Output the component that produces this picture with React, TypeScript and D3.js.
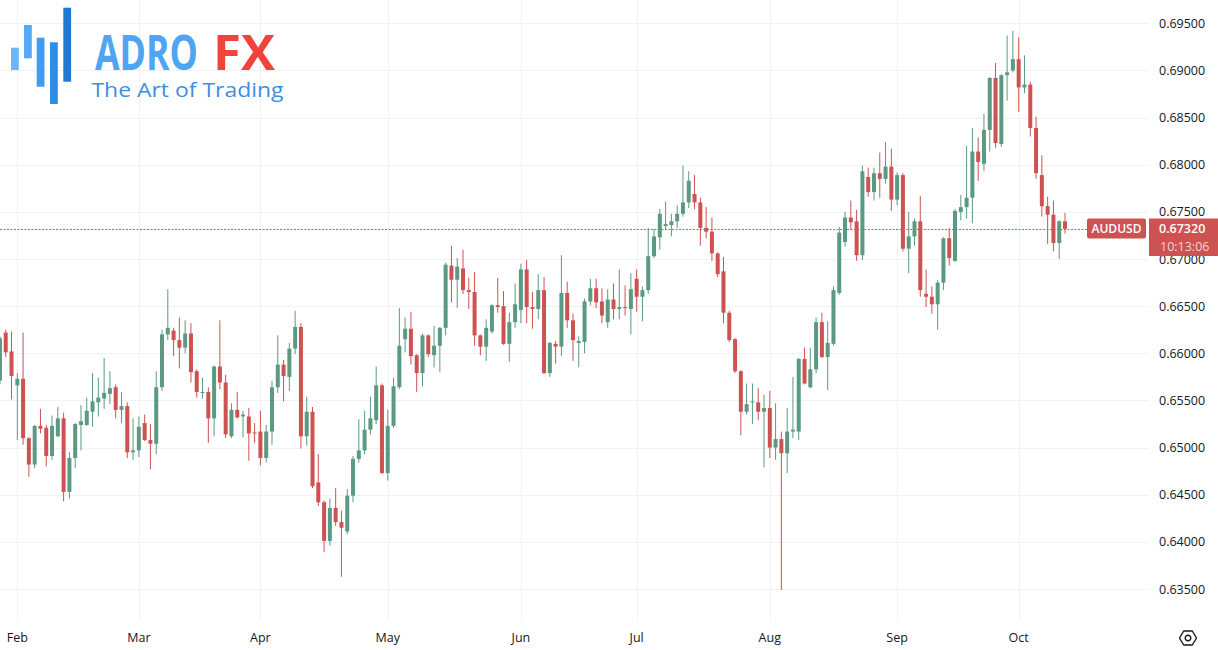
import React, { useEffect } from "react";
import * as d3 from "d3";

// Trading days (categories) from Jan 29 to Oct 11, 2024
const dates: Date[] = d3
  .timeDays(new Date(2024, 0, 29), new Date(2024, 9, 12))
  .filter((d) => d.getDay() !== 0 && d.getDay() !== 6);

const opens = [
  0.6571, 0.6622, 0.6602, 0.6566, 0.6573, 0.6510, 0.6482, 0.6523, 0.6521, 0.6491,
  0.6512, 0.6531, 0.6453, 0.6489, 0.6524, 0.6524, 0.6538, 0.6548, 0.6552, 0.6557,
  0.6564, 0.6540, 0.6544, 0.6495, 0.6497, 0.6526, 0.6508, 0.6504, 0.6564, 0.6620,
  0.6624, 0.6614, 0.6606, 0.6621, 0.6581, 0.6558, 0.6559, 0.6531, 0.6586, 0.6569,
  0.6512, 0.6540, 0.6533, 0.6533, 0.6516, 0.6517, 0.6489, 0.6517, 0.6564, 0.6588,
  0.6575, 0.6605, 0.6628, 0.6512, 0.6538, 0.6463, 0.6442, 0.6401, 0.6436, 0.6421,
  0.6411, 0.6449, 0.6488, 0.6497, 0.6519, 0.6529, 0.6566, 0.6473, 0.6523, 0.6564,
  0.6615, 0.6626, 0.6598, 0.6579, 0.6619, 0.6598, 0.6608, 0.6627, 0.6693, 0.6678,
  0.6690, 0.6667, 0.6665, 0.6619, 0.6607, 0.6623, 0.6651, 0.6650, 0.6610, 0.6633,
  0.6646, 0.6689, 0.6649, 0.6647, 0.6667, 0.6579, 0.6610, 0.6607, 0.6664, 0.6635,
  0.6611, 0.6612, 0.6655, 0.6669, 0.6655, 0.6633, 0.6657, 0.6647, 0.6649, 0.6647,
  0.6679, 0.6660, 0.6667, 0.6703, 0.6723, 0.6735, 0.6736, 0.6740, 0.6748, 0.6760,
  0.6769, 0.6760, 0.6733, 0.6729, 0.6706, 0.6687, 0.6643, 0.6615, 0.6581, 0.6538,
  0.6548, 0.6548, 0.6538, 0.6542, 0.6500, 0.6509, 0.6494, 0.6517, 0.6517, 0.6594,
  0.6564, 0.6583, 0.6633, 0.6596, 0.6610, 0.6664, 0.6718, 0.6744, 0.6740, 0.6704,
  0.6787, 0.6771, 0.6791, 0.6785, 0.6798, 0.6763, 0.6789, 0.6711, 0.6724, 0.6740,
  0.6663, 0.6660, 0.6652, 0.6675, 0.6722, 0.6698, 0.6750, 0.6755, 0.6765, 0.6814,
  0.6801, 0.6837, 0.6892, 0.6822, 0.6895, 0.6900, 0.6912, 0.6882, 0.6885, 0.6839,
  0.6789, 0.6756, 0.6747, 0.6717, 0.6740,
];

const highs = [
  0.6618, 0.6625, 0.6623, 0.6579, 0.6622, 0.6511, 0.6524, 0.6541, 0.6524, 0.6534,
  0.6543, 0.6537, 0.6495, 0.6526, 0.6545, 0.6553, 0.6579, 0.6574, 0.6595, 0.6581,
  0.6567, 0.6559, 0.6548, 0.6531, 0.6533, 0.6535, 0.6525, 0.6581, 0.6625, 0.6668,
  0.6627, 0.6638, 0.6635, 0.6632, 0.6583, 0.6574, 0.6564, 0.6587, 0.6635, 0.6577,
  0.6547, 0.6559, 0.6539, 0.6542, 0.6526, 0.6539, 0.6524, 0.6571, 0.6619, 0.6593,
  0.6611, 0.6645, 0.6632, 0.6554, 0.6543, 0.6493, 0.6444, 0.6446, 0.6457, 0.6433,
  0.6456, 0.6491, 0.6530, 0.6539, 0.6554, 0.6586, 0.6568, 0.6540, 0.6574, 0.6648,
  0.6638, 0.6644, 0.6599, 0.6621, 0.6620, 0.6629, 0.6628, 0.6696, 0.6714, 0.6701,
  0.6710, 0.6680, 0.6686, 0.6620, 0.6636, 0.6652, 0.6680, 0.6666, 0.6643, 0.6674,
  0.6695, 0.6699, 0.6665, 0.6684, 0.6681, 0.6612, 0.6613, 0.6704, 0.6676, 0.6642,
  0.6618, 0.6658, 0.6679, 0.6679, 0.6669, 0.6668, 0.6674, 0.6689, 0.6672, 0.6685,
  0.6689, 0.6671, 0.6733, 0.6732, 0.6753, 0.6761, 0.6748, 0.6757, 0.6799, 0.6793,
  0.6789, 0.6765, 0.6755, 0.6744, 0.6707, 0.6702, 0.6645, 0.6616, 0.6582, 0.6568,
  0.6568, 0.6563, 0.6556, 0.6560, 0.6547, 0.6517, 0.6542, 0.6575, 0.6595, 0.6606,
  0.6606, 0.6638, 0.6643, 0.6634, 0.6671, 0.6734, 0.6750, 0.6762, 0.6752, 0.6799,
  0.6797, 0.6797, 0.6813, 0.6824, 0.6817, 0.6792, 0.6791, 0.6750, 0.6743, 0.6767,
  0.6689, 0.6671, 0.6678, 0.6723, 0.6733, 0.6753, 0.6768, 0.6820, 0.6839, 0.6829,
  0.6854, 0.6893, 0.6908, 0.6896, 0.6937, 0.6942, 0.6935, 0.6916, 0.6888, 0.6851,
  0.6810, 0.6766, 0.6762, 0.6741, 0.6749,
];

const lows = [
  0.6567, 0.6596, 0.6551, 0.6508, 0.6503, 0.6469, 0.6478, 0.6515, 0.6480, 0.6487,
  0.6511, 0.6443, 0.6446, 0.6478, 0.6497, 0.6523, 0.6522, 0.6533, 0.6541, 0.6546,
  0.6531, 0.6526, 0.6489, 0.6487, 0.6490, 0.6507, 0.6477, 0.6493, 0.6560, 0.6614,
  0.6597, 0.6584, 0.6600, 0.6569, 0.6553, 0.6552, 0.6505, 0.6512, 0.6562, 0.6510,
  0.6510, 0.6531, 0.6511, 0.6486, 0.6505, 0.6481, 0.6484, 0.6503, 0.6558, 0.6549,
  0.6560, 0.6599, 0.6499, 0.6502, 0.6457, 0.6438, 0.6389, 0.6396, 0.6417, 0.6363,
  0.6408, 0.6442, 0.6484, 0.6493, 0.6514, 0.6525, 0.6472, 0.6465, 0.6521, 0.6562,
  0.6601, 0.6588, 0.6559, 0.6565, 0.6596, 0.6585, 0.6580, 0.6619, 0.6654, 0.6648,
  0.6663, 0.6647, 0.6608, 0.6598, 0.6592, 0.6621, 0.6643, 0.6609, 0.6591, 0.6627,
  0.6632, 0.6632, 0.6626, 0.6636, 0.6578, 0.6575, 0.6589, 0.6597, 0.6627, 0.6592,
  0.6585, 0.6600, 0.6651, 0.6648, 0.6632, 0.6627, 0.6636, 0.6636, 0.6640, 0.6620,
  0.6644, 0.6634, 0.6663, 0.6701, 0.6710, 0.6731, 0.6724, 0.6733, 0.6745, 0.6754,
  0.6753, 0.6714, 0.6722, 0.6698, 0.6681, 0.6632, 0.6612, 0.6579, 0.6513, 0.6535,
  0.6525, 0.6529, 0.6479, 0.6489, 0.6487, 0.6349, 0.6473, 0.6510, 0.6508, 0.6567,
  0.6563, 0.6579, 0.6595, 0.6561, 0.6608, 0.6662, 0.6713, 0.6731, 0.6698, 0.6699,
  0.6766, 0.6762, 0.6765, 0.6780, 0.6751, 0.6757, 0.6708, 0.6685, 0.6714, 0.6660,
  0.6649, 0.6642, 0.6625, 0.6667, 0.6693, 0.6697, 0.6741, 0.6743, 0.6738, 0.6783,
  0.6793, 0.6814, 0.6818, 0.6819, 0.6868, 0.6898, 0.6856, 0.6876, 0.6830, 0.6785,
  0.6745, 0.6716, 0.6708, 0.6700, 0.6727,
];

const closes = [
  0.6616, 0.6601, 0.6576, 0.6573, 0.6510, 0.6482, 0.6523, 0.6520, 0.6491, 0.6523,
  0.6531, 0.6453, 0.6489, 0.6525, 0.6528, 0.6539, 0.6549, 0.6553, 0.6558, 0.6563,
  0.6540, 0.6544, 0.6495, 0.6497, 0.6522, 0.6508, 0.6504, 0.6564, 0.6620, 0.6627,
  0.6614, 0.6606, 0.6621, 0.6580, 0.6559, 0.6559, 0.6531, 0.6586, 0.6569, 0.6514,
  0.6540, 0.6532, 0.6535, 0.6515, 0.6515, 0.6489, 0.6517, 0.6564, 0.6588, 0.6576,
  0.6605, 0.6628, 0.6512, 0.6538, 0.6459, 0.6442, 0.6401, 0.6436, 0.6421, 0.6415,
  0.6449, 0.6488, 0.6497, 0.6519, 0.6531, 0.6566, 0.6473, 0.6523, 0.6565, 0.6608,
  0.6626, 0.6597, 0.6579, 0.6619, 0.6599, 0.6608, 0.6627, 0.6694, 0.6678, 0.6692,
  0.6667, 0.6665, 0.6619, 0.6607, 0.6627, 0.6651, 0.6649, 0.6610, 0.6633, 0.6652,
  0.6689, 0.6649, 0.6647, 0.6667, 0.6579, 0.6611, 0.6607, 0.6664, 0.6635, 0.6614,
  0.6613, 0.6655, 0.6669, 0.6654, 0.6640, 0.6657, 0.6647, 0.6649, 0.6648, 0.6668,
  0.6660, 0.6667, 0.6703, 0.6724, 0.6748, 0.6737, 0.6740, 0.6748, 0.6760, 0.6783,
  0.6760, 0.6733, 0.6729, 0.6706, 0.6684, 0.6643, 0.6614, 0.6581, 0.6538, 0.6546,
  0.6549, 0.6538, 0.6542, 0.6500, 0.6509, 0.6494, 0.6517, 0.6519, 0.6594, 0.6568,
  0.6583, 0.6633, 0.6596, 0.6611, 0.6667, 0.6728, 0.6744, 0.6739, 0.6704, 0.6793,
  0.6771, 0.6791, 0.6785, 0.6798, 0.6763, 0.6789, 0.6711, 0.6724, 0.6740, 0.6667,
  0.6660, 0.6652, 0.6675, 0.6722, 0.6701, 0.6751, 0.6755, 0.6765, 0.6814, 0.6803,
  0.6837, 0.6892, 0.6823, 0.6895, 0.6898, 0.6912, 0.6882, 0.6885, 0.6839, 0.6791,
  0.6756, 0.6747, 0.6717, 0.6740, 0.6732,
];

const priceTicks = [
  0.635, 0.64, 0.645, 0.65, 0.655, 0.66, 0.665, 0.67, 0.675, 0.68, 0.685, 0.69, 0.695,
];
const symbol = "AUDUSD";
const lastPrice = 0.6732;
const countdown = "10:13:06";
const brandMain = "ADRO";
const brandAccent = "FX";
const tagline = "The Art of Trading";

const W = 1218;
const H = 650;
const UP = "#5a9a82";
const DOWN = "#cf5252";
const GRID = "#f0f2f6";
const TEXT = "#131722";
const FONT = "'Open Sans', 'Noto Sans', sans-serif";

export default function App() {
  useEffect(() => {
    document.body.style.margin = "0";
  }, []);

  const x = d3.scaleLinear().domain([3, 184]).range([17.3, 1065]);
  const y = d3.scaleLinear().domain([0.635, 0.695]).range([589, 23.3]);

  const monthStarts = dates
    .map((d, i) => ({ d, i }))
    .filter(({ d, i }) => i > 0 && d.getMonth() !== dates[i - 1].getMonth());
  const monthFmt = d3.timeFormat("%b");

  const plotRight = 1148;
  const bodyW = 4;

  const logoBars = [
    { x: 11, y0: 47.7, y1: 70, c: "#6ab6f6" },
    { x: 24, y0: 25, y1: 58.3, c: "#56aaf3" },
    { x: 36.7, y0: 37.7, y1: 86.7, c: "#3f9cee" },
    { x: 50, y0: 42.3, y1: 104, c: "#2f8de6" },
    { x: 63.3, y0: 7.7, y1: 81.7, c: "#1c79d6" },
  ];

  return (
    <svg
      width={W}
      height={H}
      style={{ position: "absolute", left: 0, top: 0, background: "#fff", fontFamily: FONT }}
    >
      <rect x={0} y={0} width={W} height={H} fill="#ffffff" />
      {/* horizontal grid */}
      {priceTicks.map((t) => (
        <line
          key={"hg" + t}
          x1={0}
          x2={plotRight}
          y1={Math.round(y(t)) + 0.5}
          y2={Math.round(y(t)) + 0.5}
          stroke={GRID}
          strokeWidth={1}
        />
      ))}
      {/* vertical grid */}
      {monthStarts.map(({ i }) => (
        <line
          key={"vg" + i}
          x1={Math.round(x(i)) + 0.5}
          x2={Math.round(x(i)) + 0.5}
          y1={0}
          y2={620}
          stroke={GRID}
          strokeWidth={1}
        />
      ))}

      {/* logo */}
      <g>
        {logoBars.map((b, k) => (
          <rect key={"lb" + k} x={b.x} y={b.y0} width={7.8} height={b.y1 - b.y0} fill={b.c} />
        ))}
        <text
          transform="translate(95,69.5) scale(1,1.33)"
          fontFamily="'Open Sans', sans-serif"
          fontSize={37}
          fontWeight={700}
        >
          <tspan x={0} y={0} fill="#4fa5f3" textLength={103} lengthAdjust="spacingAndGlyphs">
            {brandMain}
          </tspan>
          <tspan x={118} y={0} fill="#f0443b" textLength={62} lengthAdjust="spacingAndGlyphs">
            {brandAccent}
          </tspan>
        </text>
        <text
          x={91.5}
          y={97}
          fontFamily="'Open Sans', sans-serif"
          fontSize={20}
          fontWeight={400}
          fill="#3b8fe1"
          textLength={192}
          lengthAdjust="spacingAndGlyphs"
        >
          {tagline}
        </text>
      </g>

      {/* candles */}
      <g>
        {dates.map((d, i) => {
          const o = opens[i];
          const c = closes[i];
          const hi = highs[i];
          const lo = lows[i];
          const up = c >= o;
          const col = up ? UP : DOWN;
          const cx = x(i);
          const top = y(Math.max(o, c));
          const bot = y(Math.min(o, c));
          return (
            <g key={"c" + i}>
              <line x1={cx} x2={cx} y1={y(hi)} y2={y(lo)} stroke={col} strokeWidth={1} />
              <rect
                x={cx - bodyW / 2}
                y={top}
                width={bodyW}
                height={Math.max(1, bot - top)}
                fill={col}
              />
            </g>
          );
        })}
      </g>

      {/* last price dotted line */}
      <line
        x1={0}
        x2={1087}
        y1={Math.round(y(lastPrice)) + 0.5}
        y2={Math.round(y(lastPrice)) + 0.5}
        stroke="#e25555"
        strokeWidth={1}
        strokeDasharray="2 1.5"
      />

      {/* price axis labels */}
      {priceTicks.map((t) => (
        <text
          key={"pl" + t}
          x={1159}
          y={y(t)}
          dominantBaseline="central"
          fontSize={12.5}
          fill={TEXT}
        >
          {t.toFixed(5)}
        </text>
      ))}

      {/* symbol label */}
      <rect x={1087} y={218.5} width={59} height={20} rx={2} fill={DOWN} />
      <text
        x={1116.5}
        y={228.8}
        textAnchor="middle"
        dominantBaseline="central"
        fontSize={12}
        fontWeight={600}
        fill="#ffffff"
      >
        {symbol}
      </text>
      <rect x={1149} y={218.5} width={69} height={37.5} fill={DOWN} />
      <text fontSize={12.5} fill="#ffffff">
        <tspan x={1159} y={233.3} fontWeight={600}>
          {lastPrice.toFixed(5)}
        </tspan>
        <tspan x={1160} y={251} fillOpacity={0.75}>
          {countdown}
        </tspan>
      </text>

      {/* month labels */}
      {monthStarts.map(({ d, i }) => (
        <text
          key={"ml" + i}
          x={x(i)}
          y={637}
          textAnchor="middle"
          dominantBaseline="central"
          fontSize={12.5}
          fill={TEXT}
        >
          {monthFmt(d)}
        </text>
      ))}

      {/* settings icon */}
      <g transform="translate(1188,638)" fill="none" stroke={TEXT} strokeWidth={1.4}>
        <polygon points="-8.5,0 -4.3,-7 4.3,-7 8.5,0 4.3,7 -4.3,7" strokeLinejoin="round" />
        <circle r={2.8} />
      </g>
    </svg>
  );
}
